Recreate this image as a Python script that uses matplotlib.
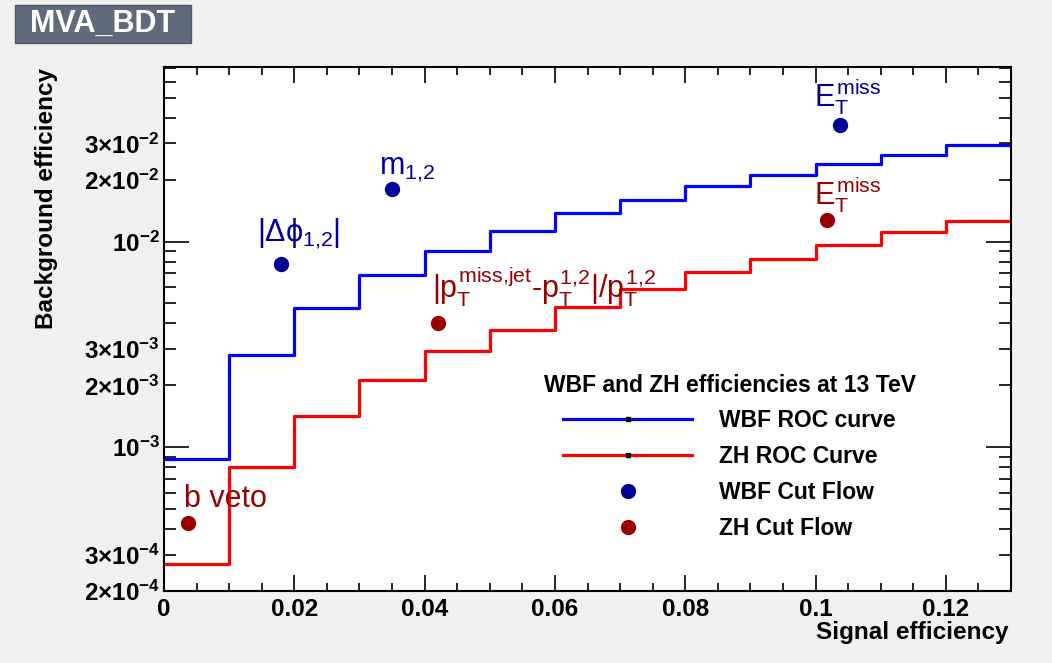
import math
import matplotlib
matplotlib.use("Agg")
import matplotlib.pyplot as plt
from matplotlib.lines import Line2D
from matplotlib.patches import Rectangle
from matplotlib.ticker import LogLocator, FuncFormatter, MultipleLocator

plt.rcParams['font.family'] = ['Liberation Sans', 'DejaVu Sans']
plt.rcParams['mathtext.fontset'] = 'custom'
plt.rcParams['mathtext.rm'] = 'Liberation Sans'
plt.rcParams['mathtext.it'] = 'Liberation Sans'
plt.rcParams['mathtext.bf'] = 'Liberation Sans:bold'
plt.rcParams['mathtext.sf'] = 'Liberation Sans'

# ROC curves: signal-efficiency bin edges and background efficiency per bin
sig_edges = [0.0, 0.01, 0.02, 0.03, 0.04, 0.05, 0.06, 0.07, 0.08, 0.09, 0.10, 0.11, 0.12, 0.13]
wbf_roc = [8.74e-4, 2.81e-3, 4.76e-3, 6.9e-3, 9.03e-3, 1.13e-2, 1.38e-2, 1.60e-2,
           1.87e-2, 2.10e-2, 2.37e-2, 2.65e-2, 2.94e-2, 2.94e-2]
zh_roc = [2.72e-4, 7.99e-4, 1.42e-3, 2.12e-3, 2.94e-3, 3.73e-3, 4.82e-3, 5.9e-3,
          7.14e-3, 8.26e-3, 9.66e-3, 1.11e-2, 1.26e-2, 1.40e-2]

# cut flow points
wbf_cut_sig = [0.018, 0.035, 0.1038]
wbf_cut_bkg = [7.8e-3, 1.81e-2, 3.68e-2]
wbf_cut_names = [r'$|\Delta\phi_{1{,}2}|$', r'$m_{1{,}2}$', r'$E_{T}^{miss}$']
wbf_label_pos = [(0.0143, 1.0e-2), (0.033, 2.12e-2), (0.0998, 4.56e-2)]

zh_cut_sig = [0.0037, 0.042, 0.1018]
zh_cut_bkg = [4.26e-4, 4.03e-3, 1.27e-2]
zh_cut_names = ['b veto',
                r'$|p_{T}^{miss{,}jet}\text{-}p_{T}^{1{,}2}|/p_{T}^{1{,}2}$',
                r'$E_{T}^{miss}$']
zh_label_pos = [(0.003, 5.1e-4), (0.0411, 5.3e-3), (0.0998, 1.51e-2)]

y_labels = {2e-4: '2', 3e-4: '3', 2e-3: '2', 3e-3: '3', 2e-2: '2', 3e-2: '3'}

bg = '#f0f0f0'
fig = plt.figure(figsize=(10.52, 6.63), dpi=100, facecolor=bg)
ax = fig.add_axes([164 / 1052, 1 - 591 / 663, (1011 - 164) / 1052, (591 - 67) / 663])
ax.set_facecolor('white')

ax.step(sig_edges, wbf_roc, where='post', color='#0000ff', lw=2.3)
ax.step(sig_edges, zh_roc, where='post', color='#ff0000', lw=2.3)
ax.plot(wbf_cut_sig, wbf_cut_bkg, 'o', color='#000099', ms=10, ls='none')
ax.plot(zh_cut_sig, zh_cut_bkg, 'o', color='#990000', ms=10, ls='none')

for name, (x, y) in zip(wbf_cut_names, wbf_label_pos):
    ax.text(x, y, name, color='#000099', fontsize=22, ha='left', va='baseline')
for name, (x, y) in zip(zh_cut_names, zh_label_pos):
    ax.text(x, y, name, color='#990000', fontsize=22, ha='left', va='baseline')

ax.set_yscale('log')
ax.set_xlim(0, 0.13)
ax.set_ylim(2e-4, 0.0706)

ax.xaxis.set_major_locator(MultipleLocator(0.02))
ax.xaxis.set_minor_locator(MultipleLocator(0.005))
ax.xaxis.set_major_formatter(FuncFormatter(lambda v, p: '0' if abs(v) < 1e-9 else f'{v:g}'))
ax.yaxis.set_major_locator(LogLocator(base=10))
ax.yaxis.set_minor_locator(LogLocator(base=10, subs=range(2, 10)))


def major_fmt(v, p):
    e = int(round(math.log10(v)))
    return r'$\mathbf{10^{%d}}$' % e


def minor_fmt(v, p):
    for k, s in y_labels.items():
        if abs(v - k) / k < 1e-6:
            e = int(math.floor(math.log10(v)))
            return r'$\mathbf{%s{\times}10^{%d}}$' % (s, e)
    return ''


ax.yaxis.set_major_formatter(FuncFormatter(major_fmt))
ax.yaxis.set_minor_formatter(FuncFormatter(minor_fmt))

ax.tick_params(axis='both', which='both', direction='in', top=True, right=True, width=1.2)
ax.tick_params(axis='x', which='major', length=11.5, labelsize=17.5, pad=5)
ax.tick_params(axis='x', which='minor', length=5.8)
ax.tick_params(axis='y', which='major', length=18, labelsize=17.5, pad=3)
ax.tick_params(axis='y', which='minor', length=8.6, labelsize=17.5, pad=3)
for lab in ax.get_xticklabels():
    lab.set_fontweight('bold')
for sp in ax.spines.values():
    sp.set_linewidth(1.5)

handles = [
    Line2D([], [], color='#0000ff', lw=2.3, marker='s', ms=3, mfc='k', mec='k'),
    Line2D([], [], color='#ff0000', lw=2.3, marker='s', ms=3, mfc='k', mec='k'),
    Line2D([], [], color='#000099', marker='o', ms=10, ls='none'),
    Line2D([], [], color='#990000', marker='o', ms=10, ls='none'),
]
labels = ['WBF ROC curve', 'ZH ROC Curve', 'WBF Cut Flow', 'ZH Cut Flow']
leg = ax.legend(handles, labels, loc='upper left', bbox_to_anchor=(359 / 847, 1 - 286 / 524),
                frameon=False, numpoints=1, handlelength=5.63, handletextpad=1.18,
                labelspacing=0.56, title='WBF and ZH efficiencies at 13 TeV',
                prop={'weight': 'bold', 'size': 16.5},
                title_fontproperties={'weight': 'bold', 'size': 16.5})

fig.text(47 / 1052, 1 - 68 / 663, 'Background efficiency', rotation=90, ha='center', va='top',
         fontsize=17.5, fontweight='bold')
fig.text(1008 / 1052, 1 - 633 / 663, 'Signal efficiency', ha='right', va='center',
         fontsize=17.5, fontweight='bold')

fig.patches.append(Rectangle((15 / 1052, 1 - 43 / 663), 176 / 1052, 38 / 663,
                             transform=fig.transFigure, facecolor='#5f6b7d',
                             edgecolor='#4d586a', lw=1))
fig.text(103 / 1052, 1 - 24 / 663, 'MVA_BDT', color='white', fontsize=22, fontweight='bold',
         ha='center', va='center')

fig.savefig('out.png', dpi=100, facecolor=bg)
